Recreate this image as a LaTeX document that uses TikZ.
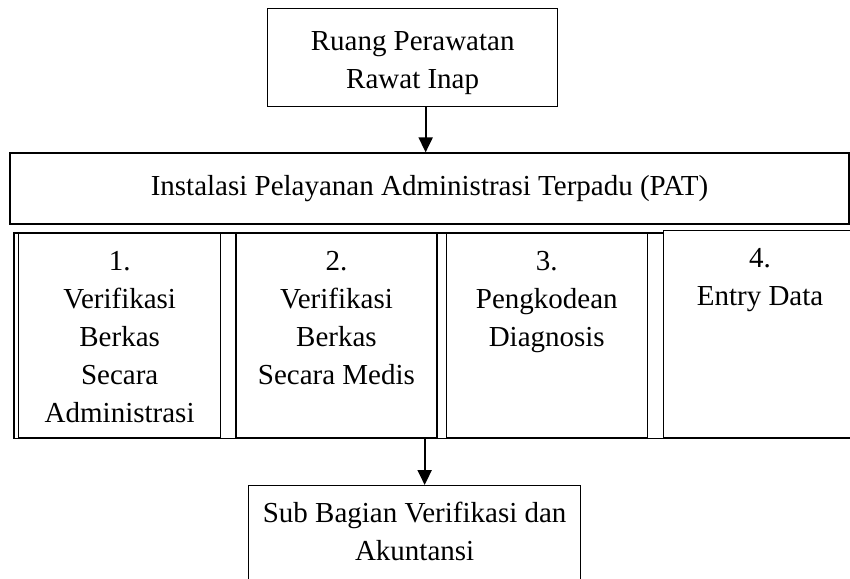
\documentclass[tikz,border=0pt]{standalone}
\usepackage{fontspec}
\setmainfont{Liberation Serif}
\usepackage{tikz}
\usetikzlibrary{arrows.meta, positioning}

% isi kotak: lebar, tinggi, jarak baris pertama, teks
\newcommand{\colcell}[4]{\parbox[t][#2][t]{#1}{\centering\rule{0pt}{#3}#4}}

\begin{document}
\begin{tikzpicture}[
	x=1pt, y=-1pt,
	every node/.style={font=\fontsize{29}{38}\selectfont},
	box/.style={rectangle, draw=black, line width=1.3pt, inner sep=0pt, anchor=north west},
	arrow/.style={line width=2pt, -{Triangle[length=15pt, width=14pt]}}
]
\useasboundingbox (0,0) rectangle (850,578);

% Asal berkas dan instalasi
\node[box] (ruang) at (267,8) {\colcell{290pt}{98pt}{42pt}{Ruang Perawatan\\ Rawat Inap}};
\node[box, anchor=center, minimum width=839pt, minimum height=71pt] (pat) at (429.5,188.5) {Instalasi Pelayanan Administrasi Terpadu (PAT)};

% Tahapan di PAT
\node[box] (col1) at (18,233) {\colcell{202pt}{204pt}{37pt}{1.\\ Verifikasi\\ Berkas\\ Secara\\ Administrasi}};
\node[box, right=14pt of col1.north east, anchor=north west] (col2) {\colcell{201pt}{204pt}{37pt}{2.\\ Verifikasi\\ Berkas\\ Secara Medis}};
\node[box, right=8pt of col2.north east, anchor=north west] (col3) {\colcell{201pt}{204pt}{37pt}{3.\\ Pengkodean\\ Diagnosis}};
\node[box, right=15pt of col3.north east, anchor=north west, yshift=3pt] (col4) {\colcell{193pt}{207pt}{37pt}{4.\\ Entry Data}};
% bingkai tabel
\draw[line width=1.3pt] (col3.north east -| col4.west) -- ([xshift=-4pt]col1.north west) -- ([xshift=-4pt]col1.south west) -- (col4.south east);

% Tujuan
\node[box] (sub) at (248,485) {\colcell{332pt}{120pt}{37pt}{Sub Bagian Verifikasi dan\\ Akuntansi}};

% Panah
\draw[arrow] ([xshift=13pt]ruang.south) -- ([xshift=13pt]ruang.south |- pat.north);
\draw[arrow] ([xshift=10pt]sub.north |- col2.south) -- ([xshift=10pt]sub.north);

\end{tikzpicture}
\end{document}
